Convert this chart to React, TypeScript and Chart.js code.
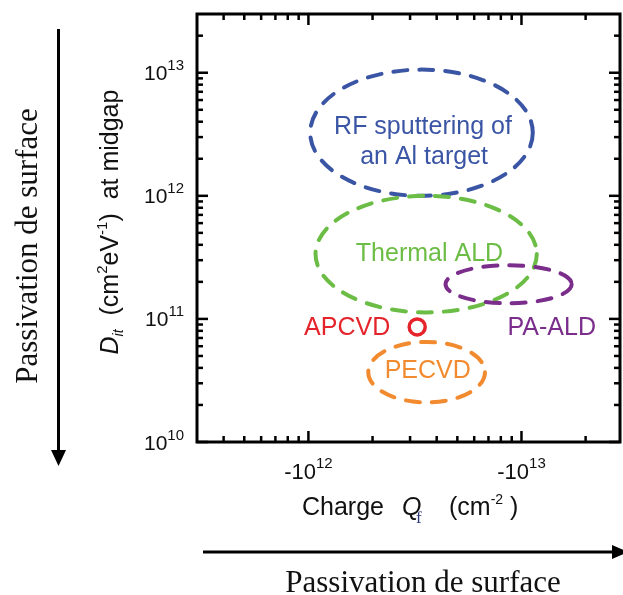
import React, { useEffect, useRef } from "react";
import { Chart, registerables } from "chart.js";

Chart.register(...registerables);

// ---- axis ranges and tick labels ----
const X_MIN = 3e11;
const X_MAX = 2.9e13;
const Y_MIN = 1e10;
const Y_MAX = 3e13;
const X_MAJOR = [1e12, 1e13];
const X_MAJOR_EXP = ["12", "13"];
const Y_MAJOR = [1e10, 1e11, 1e12, 1e13];
const Y_MAJOR_EXP = ["10", "11", "12", "13"];

// ---- regions (dashed ellipses), bounds in data units ----
const REGION_NAMES = ["RF sputtering", "Thermal ALD", "PA-ALD", "PECVD"];
const REGION_QF_MIN = [1.02e12, 1.08e12, 4.4e12, 1.91e12];
const REGION_QF_MAX = [1.13e13, 1.18e13, 1.72e13, 6.74e12];
const REGION_DIT_MIN = [1.0e12, 1.13e11, 1.34e11, 2.1e10];
const REGION_DIT_MAX = [1.06e13, 1.0e12, 2.73e11, 6.5e10];
const REGION_COLORS = ["#3b55a5", "#6cbd45", "#7b2d8b", "#f28b30"];

// ---- single point (APCVD) ----
const POINT_QF = [3.24e12];
const POINT_DIT = [8.6e10];
const POINT_COLOR = "#e5232b";

// ---- text labels, anchored in data units ----
const LABEL_TEXT = ["RF sputtering of", "an Al target", "Thermal ALD", "APCVD", "PA-ALD", "PECVD"];
const LABEL_QF = [3.45e12, 3.49e12, 3.7e12, 2.42e12, 8.6e12, 3.63e12];
const LABEL_DIT = [3.15e12, 1.8e12, 2.94e11, 7.38e10, 7.38e10, 3.3e10];
const LABEL_ALIGN = ["center", "center", "center", "right", "left", "center"];
const LABEL_COLOR = ["#3b55a5", "#3b55a5", "#6cbd45", "#e5232b", "#7b2d8b", "#f28b30"];

const SANS = '"Liberation Sans", Arial, Helvetica, sans-serif';
const SERIF = '"Liberation Serif", "Times New Roman", serif';

function minorTicks(min: number, max: number): number[] {
  const out: number[] = [];
  for (let e = Math.floor(Math.log10(min)); e <= Math.ceil(Math.log10(max)); e++) {
    for (let m = 2; m <= 9; m++) {
      const v = m * Math.pow(10, e);
      if (v > min * 1.001 && v < max * 0.999) out.push(v);
    }
  }
  return out;
}

type Piece = { t: string; font: string; dy: number; color?: string };

function drawPieces(ctx: CanvasRenderingContext2D, pieces: Piece[], x: number, y: number, color: string) {
  let cx = x;
  for (const p of pieces) {
    ctx.font = p.font;
    ctx.fillStyle = p.color || color;
    ctx.fillText(p.t, cx, y + p.dy);
    cx += ctx.measureText(p.t).width;
  }
}
function piecesWidth(ctx: CanvasRenderingContext2D, pieces: Piece[]) {
  let w = 0;
  for (const p of pieces) {
    ctx.font = p.font;
    w += ctx.measureText(p.t).width;
  }
  return w;
}

const decorPlugin = {
  id: "decor",
  beforeDatasetsDraw(chart: any) {
    const ctx: CanvasRenderingContext2D = chart.ctx;
    const xs = chart.scales.x;
    const ys = chart.scales.y;
    ctx.save();
    // dashed ellipses
    for (let i = 0; i < REGION_NAMES.length; i++) {
      const x0 = xs.getPixelForValue(REGION_QF_MIN[i]);
      const x1 = xs.getPixelForValue(REGION_QF_MAX[i]);
      const y0 = ys.getPixelForValue(REGION_DIT_MAX[i]);
      const y1 = ys.getPixelForValue(REGION_DIT_MIN[i]);
      ctx.beginPath();
      ctx.ellipse((x0 + x1) / 2, (y0 + y1) / 2, (x1 - x0) / 2, (y1 - y0) / 2, 0, 0, Math.PI * 2);
      ctx.strokeStyle = REGION_COLORS[i];
      ctx.lineWidth = 4;
      ctx.lineCap = "round";
      ctx.setLineDash([14, 12]);
      ctx.stroke();
    }
    ctx.setLineDash([]);
    // labels
    ctx.textBaseline = "alphabetic";
    ctx.font = `25px ${SANS}`;
    for (let i = 0; i < LABEL_TEXT.length; i++) {
      ctx.fillStyle = LABEL_COLOR[i];
      ctx.textAlign = LABEL_ALIGN[i] as CanvasTextAlign;
      ctx.fillText(LABEL_TEXT[i], xs.getPixelForValue(LABEL_QF[i]), ys.getPixelForValue(LABEL_DIT[i]));
    }
    ctx.restore();
  },
  afterDraw(chart: any) {
    const ctx: CanvasRenderingContext2D = chart.ctx;
    const xs = chart.scales.x;
    const ys = chart.scales.y;
    const a = chart.chartArea;
    ctx.save();
    ctx.strokeStyle = "#000";
    ctx.fillStyle = "#000";
    ctx.lineCap = "butt";

    // ticks (inward, on all four sides)
    ctx.lineWidth = 2.5;
    const tick = (x1: number, y1: number, x2: number, y2: number) => {
      ctx.beginPath();
      ctx.moveTo(x1, y1);
      ctx.lineTo(x2, y2);
      ctx.stroke();
    };
    const xMinor = minorTicks(X_MIN, X_MAX);
    const yMinor = minorTicks(Y_MIN, Y_MAX);
    for (const v of X_MAJOR) {
      const px = xs.getPixelForValue(v);
      tick(px, a.bottom, px, a.bottom - 11);
      tick(px, a.top, px, a.top + 11);
    }
    for (const v of xMinor) {
      const px = xs.getPixelForValue(v);
      tick(px, a.bottom, px, a.bottom - 6);
      tick(px, a.top, px, a.top + 6);
    }
    for (const v of Y_MAJOR) {
      const py = ys.getPixelForValue(v);
      tick(a.left, py, a.left + 11, py);
      tick(a.right, py, a.right - 11, py);
    }
    for (const v of yMinor) {
      const py = ys.getPixelForValue(v);
      tick(a.left, py, a.left + 6, py);
      tick(a.right, py, a.right - 6, py);
    }

    // frame
    ctx.lineWidth = 3;
    ctx.strokeRect(a.left, a.top, a.right - a.left, a.bottom - a.top);

    // y tick labels
    ctx.textBaseline = "alphabetic";
    ctx.textAlign = "left";
    for (let i = 0; i < Y_MAJOR.length; i++) {
      const py = ys.getPixelForValue(Y_MAJOR[i]);
      const pieces: Piece[] = [
        { t: "10", font: `21px ${SANS}`, dy: 0 },
        { t: Y_MAJOR_EXP[i], font: `15px ${SANS}`, dy: -10 },
      ];
      const w = piecesWidth(ctx, pieces);
      drawPieces(ctx, pieces, 184 - w, py + 7.5, "#111");
    }
    // x tick labels
    for (let i = 0; i < X_MAJOR.length; i++) {
      const px = xs.getPixelForValue(X_MAJOR[i]);
      const pieces: Piece[] = [
        { t: "-10", font: `22px ${SANS}`, dy: 0 },
        { t: X_MAJOR_EXP[i], font: `15px ${SANS}`, dy: -11 },
      ];
      const w = piecesWidth(ctx, pieces);
      drawPieces(ctx, pieces, px - w / 2, 479, "#111");
    }

    // x axis title
    const f24 = `25px ${SANS}`;
    drawPieces(ctx, [{ t: "Charge", font: f24, dy: 0 }], 302, 515, "#111");
    drawPieces(ctx, [{ t: "Q", font: `italic 25px ${SANS}`, dy: 0 }], 402, 515, "#111");
    drawPieces(ctx, [{ t: "f", font: `17px ${SERIF}`, dy: 8, color: "#2d3a78" }], 416, 515, "#111");
    drawPieces(
      ctx,
      [
        { t: "(cm", font: f24, dy: 0 },
        { t: "-2", font: `14px ${SANS}`, dy: -11 },
        { t: " )", font: f24, dy: 0 },
      ],
      449,
      515,
      "#111"
    );

    // y axis title (rotated)
    ctx.save();
    ctx.translate(118, 222);
    ctx.rotate(-Math.PI / 2);
    const yt: Piece[] = [
      { t: "D", font: `italic 25px ${SANS}`, dy: 0 },
      { t: "it", font: `italic 14px ${SANS}`, dy: 5 },
      { t: "  (cm", font: f24, dy: 0 },
      { t: "2", font: `15px ${SANS}`, dy: -11 },
      { t: "eV", font: f24, dy: 0 },
      { t: "-1", font: `15px ${SANS}`, dy: -11 },
      { t: ")  at midgap", font: f24, dy: 0 },
    ];
    const yw = piecesWidth(ctx, yt);
    drawPieces(ctx, yt, -yw / 2, 0, "#111");
    ctx.restore();

    // arrows
    ctx.strokeStyle = "#000";
    ctx.fillStyle = "#000";
    ctx.lineWidth = 3;
    ctx.beginPath();
    ctx.moveTo(58.5, 29);
    ctx.lineTo(58.5, 452);
    ctx.stroke();
    ctx.beginPath();
    ctx.moveTo(51, 450);
    ctx.lineTo(66, 450);
    ctx.lineTo(58.5, 466);
    ctx.closePath();
    ctx.fill();

    ctx.beginPath();
    ctx.moveTo(203, 552);
    ctx.lineTo(614, 552);
    ctx.stroke();
    ctx.beginPath();
    ctx.moveTo(612, 545);
    ctx.lineTo(612, 559);
    ctx.lineTo(628, 552);
    ctx.closePath();
    ctx.fill();

    // serif annotations
    ctx.font = `31px ${SERIF}`;
    ctx.fillStyle = "#111";
    ctx.textAlign = "center";
    ctx.fillText("Passivation de surface", 423, 592);
    ctx.save();
    ctx.translate(37, 246);
    ctx.rotate(-Math.PI / 2);
    ctx.fillText("Passivation de surface", 0, 0);
    ctx.restore();

    ctx.restore();
  },
};

export default function App() {
  const ref = useRef<HTMLCanvasElement | null>(null);
  useEffect(() => {
    if (!ref.current) return;
    const chart = new Chart(ref.current, {
      type: "scatter",
      data: {
        datasets: [
          {
            label: "APCVD",
            data: POINT_QF.map((x, i) => ({ x, y: POINT_DIT[i] })),
            pointRadius: 8,
            pointHoverRadius: 8,
            pointBorderWidth: 3.5,
            borderColor: POINT_COLOR,
            backgroundColor: "rgba(0,0,0,0)",
            pointBackgroundColor: "rgba(0,0,0,0)",
          },
        ],
      },
      options: {
        animation: false,
        responsive: false,
        events: [],
        layout: { autoPadding: false, padding: { left: 197, top: 14, right: 3, bottom: 153 } },
        plugins: { legend: { display: false }, tooltip: { enabled: false } },
        scales: {
          x: { type: "logarithmic", min: X_MIN, max: X_MAX, display: false },
          y: { type: "logarithmic", min: Y_MIN, max: Y_MAX, display: false },
        },
      },
      plugins: [decorPlugin],
    });
    return () => chart.destroy();
  }, []);
  return (
    <div style={{ position: "absolute", left: 0, top: 0, width: 623, height: 595, background: "#fff" }}>
      <canvas ref={ref} width={623} height={595} style={{ display: "block" }} />
    </div>
  );
}
